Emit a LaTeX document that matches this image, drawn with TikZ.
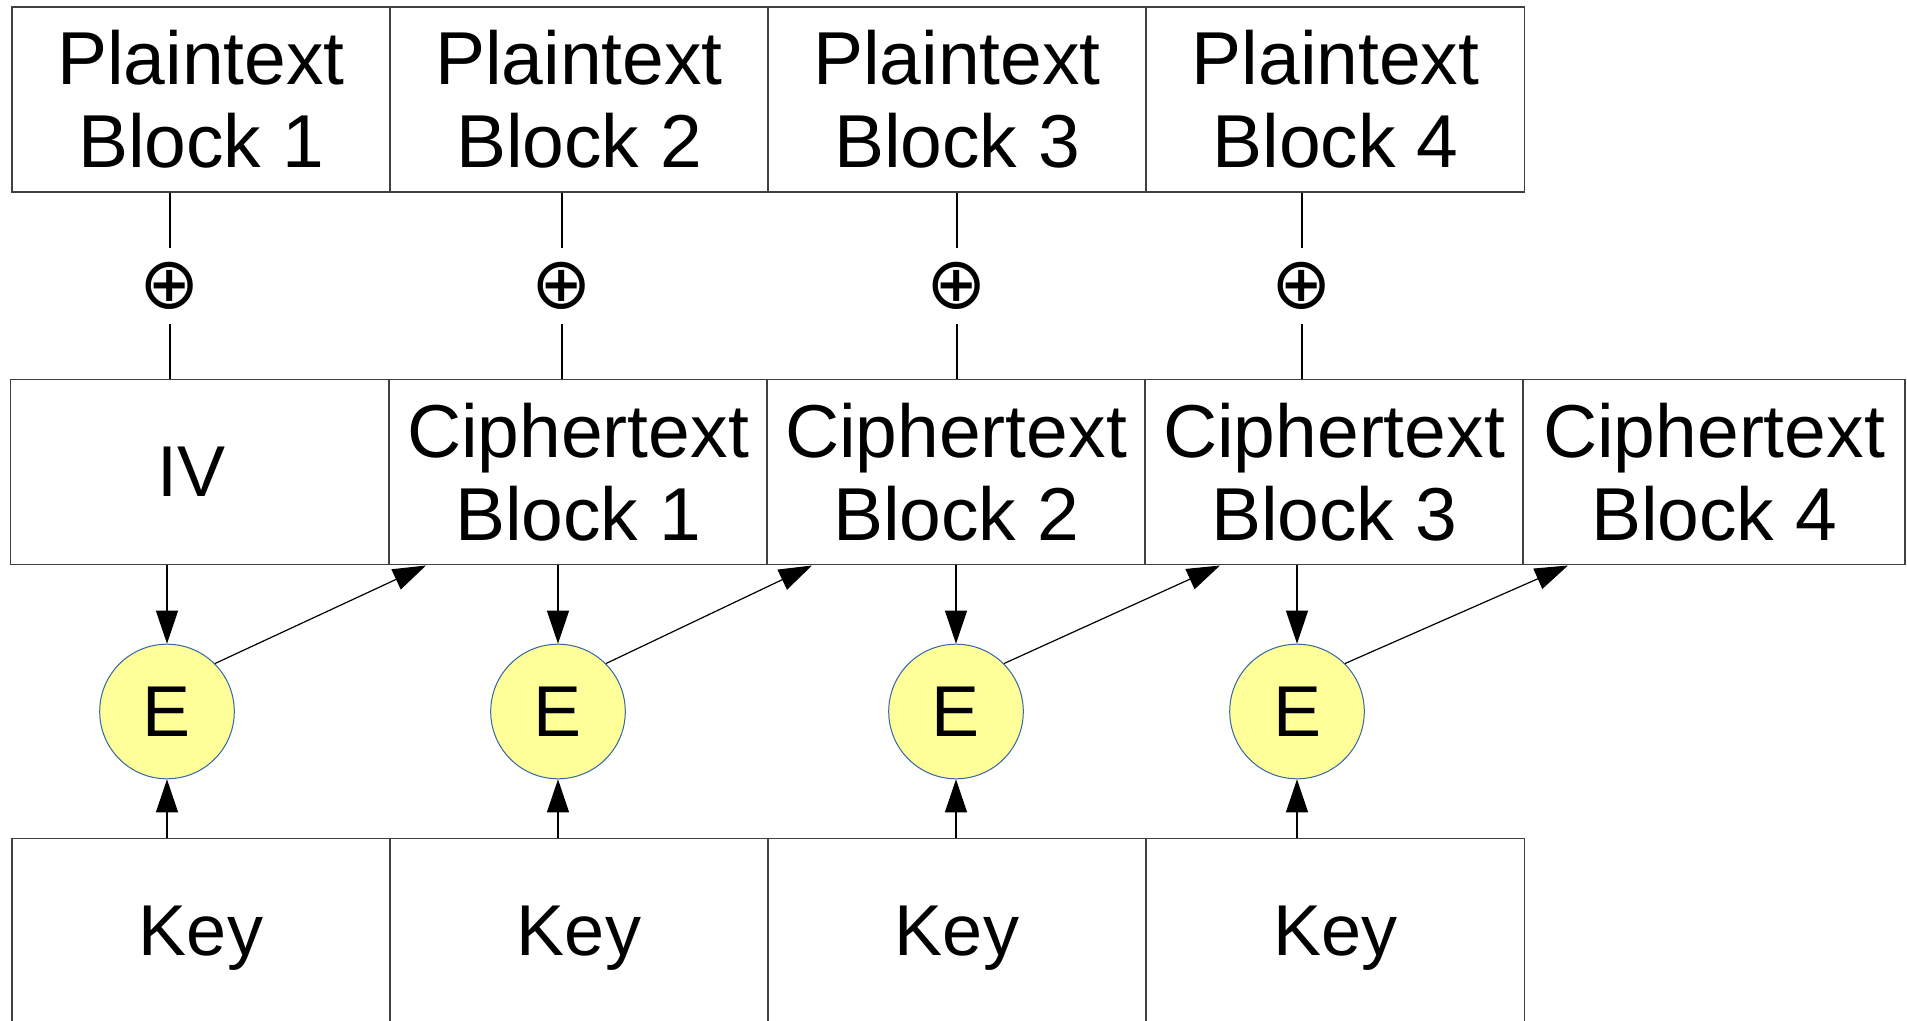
\documentclass[tikz,border=0pt]{standalone}
\usepackage{fontspec}
\setmainfont{Liberation Sans}
\newfontfamily\symfont{DejaVu Sans}
\usetikzlibrary{arrows.meta}
\definecolor{encyellow}{HTML}{FFFF99}
\definecolor{encblue}{HTML}{3465A4}
\tikzset{
  block/.style={draw=black!75, line width=0.6pt, minimum width=189pt,
    minimum height=92.5pt, inner sep=0pt, align=center,
    font=\fontsize{37.5}{41.5}\selectfont},
  keybox/.style={block, text depth=0pt, font=\fontsize{36}{40}\selectfont},
  enc/.style={circle, draw=encblue, line width=0.5pt, fill=encyellow,
    minimum size=67.3pt, inner sep=0pt, text depth=0pt,
    font=\fontsize{36}{40}\selectfont},
  xor/.style={inner sep=0pt, minimum height=38pt,
    font=\symfont\fontsize{36}{36}\selectfont},
  link/.style={draw=black, line width=0.6pt},
  flow/.style={link, -{Triangle[length=16.5pt,width=11pt]}},
}
\begin{document}
\begin{tikzpicture}[x=0.5pt,y=-0.5pt]
  \useasboundingbox (0,0) rectangle (1907,1021);

  \node[block] (p1) at (201,99.5) {Plaintext\\Block 1};
  \node[block] (p2) at (579,99.5) {Plaintext\\Block 2};
  \node[block] (p3) at (957,99.5) {Plaintext\\Block 3};
  \node[block] (p4) at (1335.5,99.5) {Plaintext\\Block 4};

  \node[keybox] (iv) at (199.5,472) {IV\hspace*{8pt}};
  \node[block] (c1) at (578,472) {Ciphertext\\Block 1};
  \node[block] (c2) at (956,472) {Ciphertext\\Block 2};
  \node[block] (c3) at (1334,472) {Ciphertext\\Block 3};
  \node[block, minimum width=191pt] (c4) at (1714,472) {Ciphertext\\Block 4};

  \foreach \i/\x in {1/170,2/562,3/957,4/1302}
    \node[xor] (x\i) at (\x,286) {⊕};

  \foreach \i/\x in {1/167,2/558,3/956,4/1297}
    \node[enc] (e\i) at (\x,711.5) {E};

  \foreach \i/\x in {1/201,2/579,3/957,4/1335.5}
    \node[keybox] (k\i) at (\x,931) {Key};

  \coordinate (t1) at (426,565.5);
  \coordinate (t2) at (812,565.5);
  \coordinate (t3) at (1220,565.5);
  \coordinate (t4) at (1568,565.5);

  \foreach \i/\m in {1/iv,2/c1,3/c2,4/c3} {
    \draw[link] (p\i.south -| x\i) -- (x\i);
    \draw[link] (x\i) -- (x\i |- \m.north);
    \draw[flow] (e\i |- \m.south) -- (e\i.north);
    \draw[flow] (e\i |- k\i.north) -- (e\i.south);
    \draw[flow] (e\i.45) -- (t\i);
  }
\end{tikzpicture}
\end{document}
